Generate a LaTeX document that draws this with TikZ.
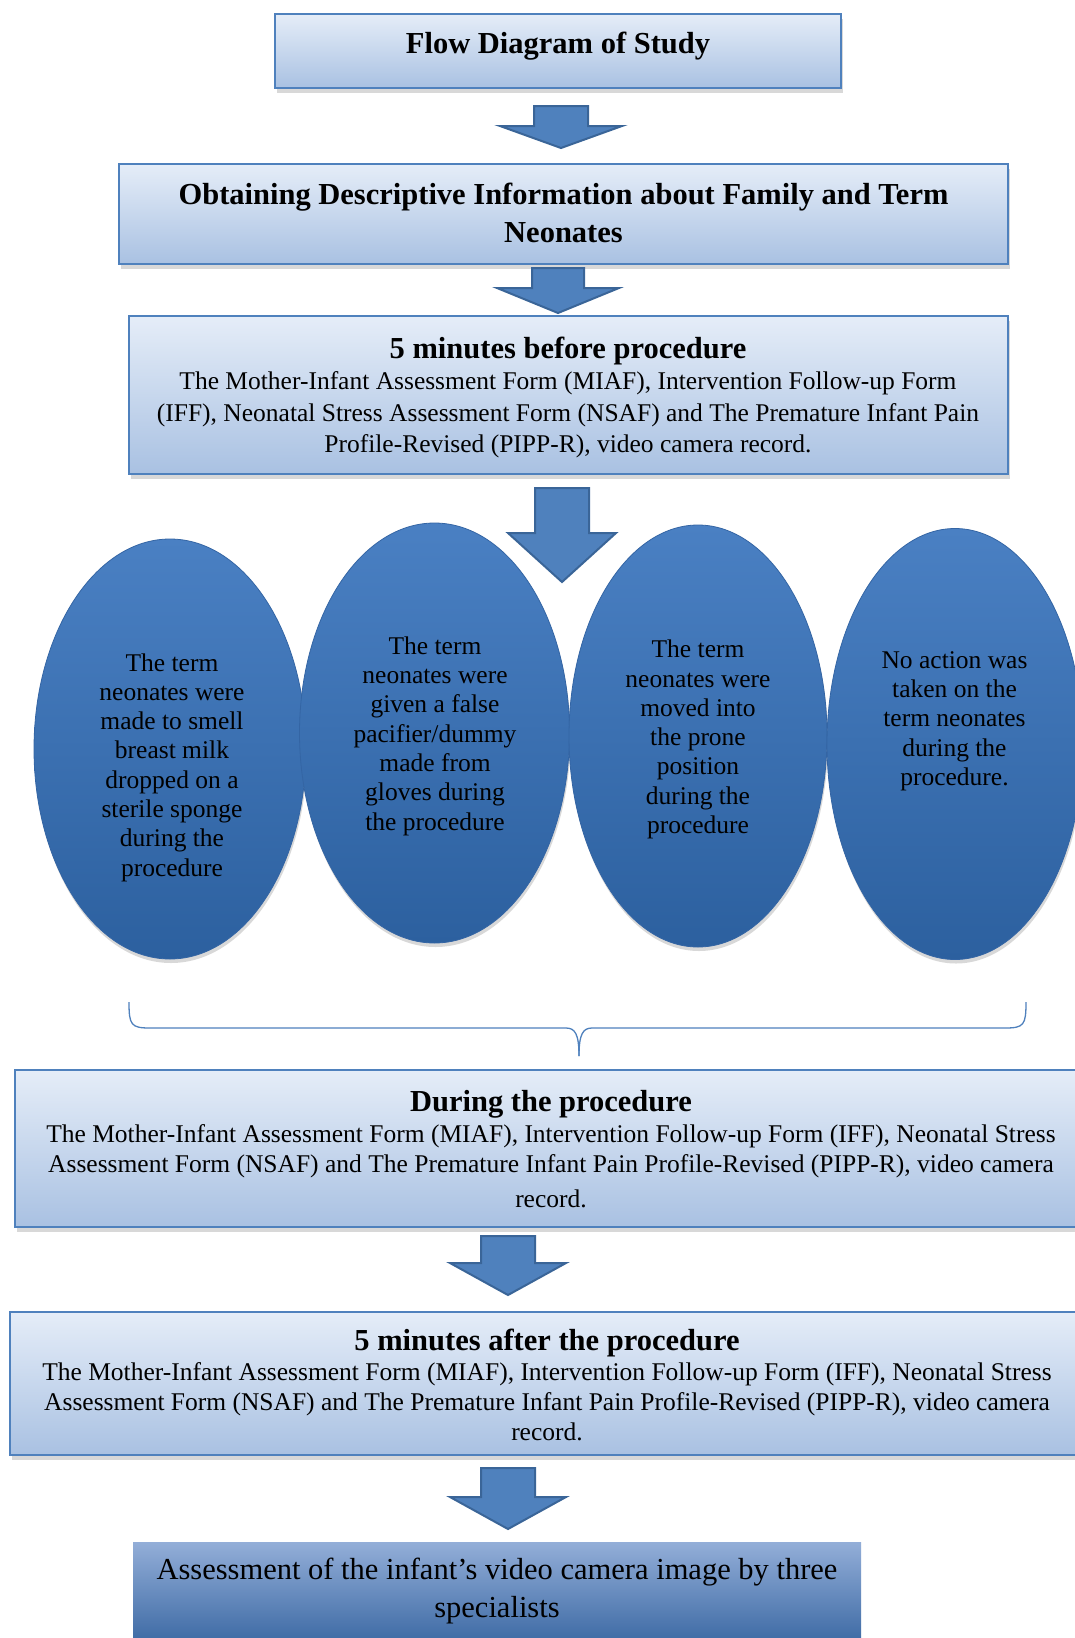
\documentclass[tikz,border=0pt]{standalone}
\usepackage{fontspec}
\setmainfont{Liberation Serif}
\usetikzlibrary{shadows,shapes.geometric}
\definecolor{lt}{HTML}{E5EDF8}
\definecolor{lb}{HTML}{A9C1E2}
\definecolor{bord}{HTML}{4F81BD}
\definecolor{et}{HTML}{4A80C3}
\definecolor{em}{HTML}{3B70B3}
\definecolor{eb}{HTML}{2C609F}
\definecolor{edraw}{HTML}{3465A4}
\definecolor{afill}{HTML}{4F81BD}
\definecolor{adraw}{HTML}{3A6598}
\definecolor{dt}{HTML}{93AED8}
\definecolor{dm}{HTML}{5585C2}
\definecolor{db}{HTML}{2E5E9B}
\tikzset{
  lbox/.style={rectangle, draw=bord, line width=1.5pt, top color=lt, bottom color=lb,
    drop shadow={shadow xshift=2pt, shadow yshift=-5pt, opacity=0.3}, inner sep=0pt},
  dbox/.style={rectangle, draw=none, top color=dt, middle color=dm, bottom color=db, inner sep=0pt},
  ell/.style={ellipse, draw=edraw, line width=0.8pt, top color=et, middle color=em, bottom color=eb,
    drop shadow={shadow xshift=1pt, shadow yshift=-4pt, opacity=0.3}, inner sep=0pt},
  ttl/.style={font=\fontsize{30.5}{38.5}\selectfont\bfseries, align=center, inner sep=0pt},
  bigtx/.style={font=\fontsize{30.5}{38.5}\selectfont, align=center, inner sep=0pt},
  bdy/.style={font=\fontsize{25.5}{30}\selectfont, align=center, inner sep=0pt},
  etx/.style={font=\fontsize{25.5}{29.3}\selectfont, align=center, inner sep=0pt},
  barrow/.style={fill=afill, draw=adraw, line width=2pt, line join=miter},
  bracestyle/.style={draw=bord, line width=1.3pt}
}
\newcommand\blkarr[7]{% name, cx, ytop, yhead, ytip, shaft half, head half
  \draw[barrow] (#2-#6,#3) -- (#2+#6,#3) -- (#2+#6,#4) -- (#2+#7,#4) -- (#2,#5)
    -- (#2-#7,#4) -- (#2-#6,#4) -- cycle;
  \coordinate (#1) at (#2,#5);}
\begin{document}
\begin{tikzpicture}[x=1pt,y=-1pt]
\path[use as bounding box, fill=white] (0,0) rectangle (1074,1638);

% boxes
\node[lbox, minimum width=566pt, minimum height=74pt] (box1) at (558,51) {};
\node[ttl] (t1) at (558,46) {Flow Diagram of Study};

\blkarr{a1}{561}{106}{126}{148}{27}{61}

\node[lbox, minimum width=889pt, minimum height=100pt] (box2) at (563.5,214) {};
\node[ttl] (t2) at (563.5,213) {Obtaining Descriptive Information about Family and Term\\Neonates};

\blkarr{a2}{558}{268}{288}{313}{26}{61}

\node[lbox, minimum width=879pt, minimum height=158pt] (box3) at (568.5,395) {};
\node[ttl] (t3) at (568,351) {5 minutes before procedure};
\node[bdy, font=\fontsize{25.5}{31.5}\selectfont] (b3) at (568,415) {The Mother-Infant Assessment Form (MIAF), Intervention Follow-up Form\\(IFF), Neonatal Stress Assessment Form (NSAF) and The Premature Infant Pain\\Profile-Revised (PIPP-R), video camera record.};

% ellipses
\node[ell, minimum width=272pt, minimum height=420pt] (e1) at (170,749) {};
\node[ell, minimum width=270pt, minimum height=420pt] (e2) at (434.5,733) {};
\node[ell, minimum width=258pt, minimum height=422pt] (e3) at (698,736) {};
\node[ell, minimum width=256pt, minimum height=431pt] (e4) at (955,744) {};
\node[etx] (x1) at (172,767.5) {The term\\neonates were\\made to smell\\breast milk\\dropped on a\\sterile sponge\\during the\\procedure};
\node[etx] (x2) at (435,736) {The term\\neonates were\\given a false\\pacifier/dummy\\made from\\gloves during\\the procedure};
\node[etx] (x3) at (698,739.5) {The term\\neonates were\\moved into\\the prone\\position\\during the\\procedure};
\node[etx] (x4) at (954.5,721) {No action was\\taken on the\\term neonates\\during the\\procedure.};

\blkarr{a3}{562}{488}{533}{582}{27}{54}

% brace
\draw[bracestyle] (129,1002) .. controls (129,1025) and (131,1028) .. (150,1028) -- (566,1028)
  .. controls (575,1028) and (579,1034) .. (579,1056);
\draw[bracestyle] (1026,1002) .. controls (1026,1025) and (1024,1028) .. (1005,1028) -- (592,1028)
  .. controls (583,1028) and (579,1034) .. (579,1056);

\node[lbox, minimum width=1072pt, minimum height=157pt] (box4) at (551,1148.5) {};
\node[ttl] (t4) at (551,1104) {During the procedure};
\node[bdy] (b4) at (551,1166) {The Mother-Infant Assessment Form (MIAF), Intervention Follow-up Form (IFF), Neonatal Stress\\Assessment Form (NSAF) and The Premature Infant Pain Profile-Revised (PIPP-R), video camera\\[5pt]record.};

\blkarr{a4}{508}{1236}{1263}{1295}{27}{58}

\node[lbox, minimum width=1074pt, minimum height=143pt] (box5) at (547,1383.5) {};
\node[ttl] (t5) at (547,1343) {5 minutes after the procedure};
\node[bdy] (b5) at (547,1402) {The Mother-Infant Assessment Form (MIAF), Intervention Follow-up Form (IFF), Neonatal Stress\\Assessment Form (NSAF) and The Premature Infant Pain Profile-Revised (PIPP-R), video camera\\record.};

\blkarr{a5}{508}{1468}{1497}{1529}{27}{58}

\node[dbox, minimum width=728pt, minimum height=118pt] (box6) at (497,1601) {};
\node[bigtx] (t6) at (497,1591) {Assessment of the infant’s video camera image by three\\specialists};
\end{tikzpicture}
\end{document}
